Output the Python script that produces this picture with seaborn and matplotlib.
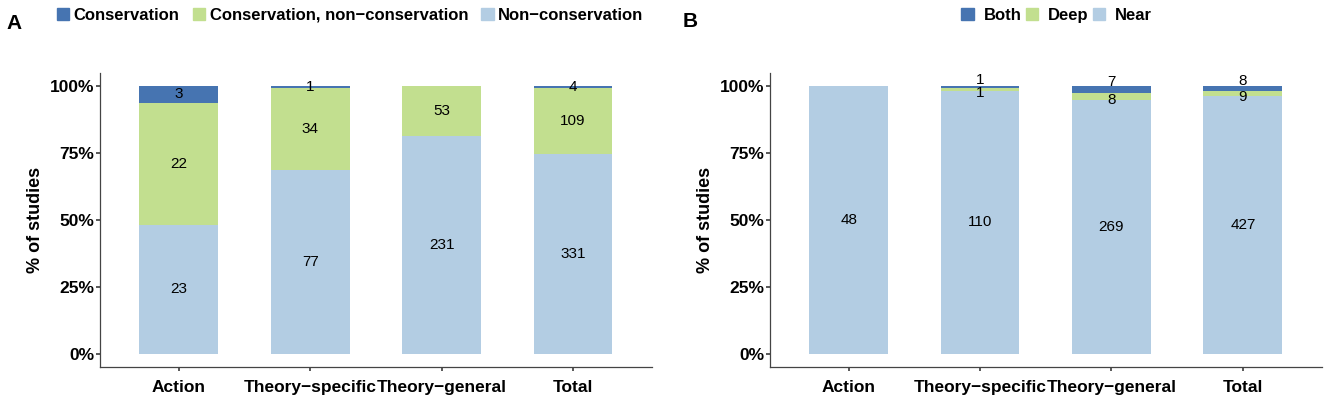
import numpy as np
import pandas as pd
import matplotlib.pyplot as plt
from matplotlib.patches import Patch
import seaborn as sns

categories = ['Action', 'Theory\u2212specific', 'Theory\u2212general', 'Total']

# panel A (counts, bottom layer first)
noncons = [23, 77, 231, 331]
cons_noncons = [22, 34, 53, 109]
cons = [3, 1, 0, 4]
names_a = ['Non\u2212conservation', 'Conservation, non\u2212conservation', 'Conservation']

# panel B
near = [48, 110, 269, 427]
deep = [0, 1, 8, 9]
both = [0, 1, 7, 8]
names_b = ['Near', 'Deep', 'Both']

colors = ['#b3cde3', '#c2df8f', '#4674b1']

sns.set_theme(style='white')
plt.rcParams['font.family'] = ['Liberation Sans', 'DejaVu Sans']
plt.rcParams['text.color'] = 'black'
plt.rcParams['axes.labelcolor'] = 'black'

fig = plt.figure(figsize=(13.25, 3.99), dpi=100)
ax_a = fig.add_axes([0.0755, 0.0802, 0.4165, 0.738])
ax_b = fig.add_axes([0.581, 0.0802, 0.4165, 0.738])


def draw_panel(ax, layers, nudge):
    counts = np.array(layers, dtype=float)
    frac = counts / counts.sum(axis=0)
    tops = frac.cumsum(axis=0)
    # draw from the top of the stack down so lower layers cover the upper ones
    for i in reversed(range(len(layers))):
        df = pd.DataFrame({'cat': categories, 'val': tops[i]})
        sns.barplot(data=df, x='cat', y='val', order=categories, color=colors[i],
                    saturation=1, width=0.6, linewidth=0, ax=ax)
    for i in range(len(layers)):
        for j in range(len(categories)):
            if counts[i, j] == 0:
                continue
            y = tops[i, j] - frac[i, j] / 2 + nudge[i]
            ax.text(j, y, str(int(counts[i, j])), ha='center', va='center',
                    fontsize=11, color='black')
    ax.set_xlim(-0.6, 3.6)
    ax.set_ylim(-0.05, 1.05)
    ax.set_yticks([0, 0.25, 0.5, 0.75, 1])
    ax.set_yticklabels(['0%', '25%', '50%', '75%', '100%'])
    ax.set_xlabel('')
    ax.set_ylabel('% of studies', fontsize=13, fontweight='bold')
    ax.tick_params(axis='both', length=3, color='#444444', labelsize=12.5,
                   bottom=True, left=True)
    ax.tick_params(axis='x', pad=6.5)
    ax.tick_params(axis='y', pad=1)
    for lab in ax.get_xticklabels() + ax.get_yticklabels():
        lab.set_fontweight('bold')
        lab.set_color('black')
    sns.despine(ax=ax)
    for s in ['left', 'bottom']:
        ax.spines[s].set_color('#444444')
        ax.spines[s].set_linewidth(0.9)


draw_panel(ax_a, [noncons, cons_noncons, cons], [0, 0, 0])
draw_panel(ax_b, [near, deep, both], [0, -0.012, 0.027])

handles_a = [Patch(color=colors[i]) for i in [2, 1, 0]]
fig.legend(handles_a, [names_a[i] for i in [2, 1, 0]], loc='center left',
           bbox_to_anchor=(0.043, 0.962), ncol=3, frameon=False,
           borderpad=0, borderaxespad=0,
           handlelength=0.75, handleheight=0.75, handletextpad=0.25,
           columnspacing=0.8, prop={'weight': 'bold', 'size': 12})
handles_b = [Patch(color=colors[i]) for i in [2, 1, 0]]
fig.legend(handles_b, [names_b[i] for i in [2, 1, 0]], loc='center left',
           bbox_to_anchor=(0.7253, 0.962), ncol=3, frameon=False,
           borderpad=0, borderaxespad=0,
           handlelength=0.75, handleheight=0.75, handletextpad=0.6,
           columnspacing=0.25, prop={'weight': 'bold', 'size': 12})

fig.text(0.005, 0.94, 'A', fontsize=15, fontweight='bold', va='center')
fig.text(0.515, 0.945, 'B', fontsize=15, fontweight='bold', va='center')

fig.savefig('out.png', dpi=100)
